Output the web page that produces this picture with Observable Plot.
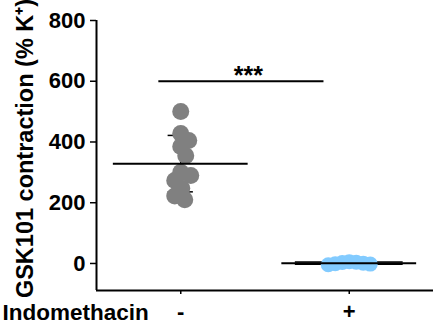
<!DOCTYPE html>
<html>
<head>
<meta charset="utf-8">
<script src="https://cdn.jsdelivr.net/npm/d3@7"></script>
<script src="https://cdn.jsdelivr.net/npm/@observablehq/plot@0.6"></script>
<style>
  body { margin: 0; background: #fff; }
</style>
</head>
<body>
<div id="chart"></div>
<script>
// Treatment groups and individual contraction responses (% of K+ response)
const groups = ["-", "+"];
const vehicle = [500, 428, 405, 385, 355, 300, 290, 273, 248, 222, 210];
const indomethacin = [-4, 3, 6, 1, -2, 4, -1];
const yTicks = [0, 200, 400, 600, 800];
const yLabel = "GSK101 contraction (% K⁺)";
const xLabel = "Indomethacin";
const significance = {from: 0.37, to: 1.35, y: 600, label: "***"};

// Layout
const width = 444, height = 326;
const margin = {top: 20, right: 11, bottom: 36, left: 96};
const yDomain = [-89, 800];
const xDomain = [0, groups.length];
const font = "'Liberation Sans', Arial, Helvetica, sans-serif";

// Per-group styling
const palette = {"-": "#808080", "+": "#82cbff"};
const dotR = {"-": 8.5, "+": 7.5};
const packGap = {"-": 10, "+": 7};      // centre spacing when spreading dots sideways (px)
const capHalf = {"-": 0.075, "+": 0.32}; // SD cap half-width (x units)
const meanHalf = 0.4;                    // mean line half-width (x units)

const pxPerX = (width - margin.left - margin.right) / (xDomain[1] - xDomain[0]);
const pxPerY = (height - margin.top - margin.bottom) / (yDomain[1] - yDomain[0]);

// Simple beeswarm: place each dot at the smallest sideways offset that keeps
// it at least packGap pixels from the dots already placed.
function swarm(values, group, gi) {
  const centre = gi + 0.5;
  const gap = packGap[group];
  const placed = [];
  const order = values.map((v, i) => i).sort((a, b) => values[b] - values[a]);
  return order.map(i => {
    const py = values[i] * pxPerY;
    let off = 0;
    for (let k = 0; k < 400; k++) {
      const o = (k % 2 ? 1 : -1) * Math.ceil(k / 2);
      if (placed.every(p => Math.hypot(p.px - o, p.py - py) >= gap)) { off = o; break; }
    }
    placed.push({px: off, py});
    return {group, value: values[i], x: centre + off / pxPerX};
  });
}

const series = [vehicle, indomethacin];
const points = groups.map((g, i) => swarm(series[i], g, i));
const stats = groups.map((g, i) => ({
  group: g,
  c: i + 0.5,
  mean: d3.mean(series[i]),
  sd: d3.deviation(series[i])
}));
const caps = stats.flatMap(s => [
  {y: s.mean - s.sd, x1: s.c - capHalf[s.group], x2: s.c + capHalf[s.group]},
  {y: s.mean + s.sd, x1: s.c - capHalf[s.group], x2: s.c + capHalf[s.group]}
]);

const chart = Plot.plot({
  width, height,
  marginTop: margin.top, marginRight: margin.right,
  marginBottom: margin.bottom, marginLeft: margin.left,
  x: {domain: xDomain},
  y: {domain: yDomain},
  style: {fontFamily: font, fontWeight: "bold", fontSize: "22px", color: "#000", background: "#fff", overflow: "visible"},
  marks: [
    // axes
    Plot.axisY(yTicks, {tickSize: 6, tickPadding: 5, fontSize: 22, fontWeight: "bold", strokeWidth: 1.5, label: null}),
    Plot.axisX(stats.map(s => s.c), {tickFormat: d => groups[Math.floor(d)], tickSize: 4, tickPadding: 9, fontSize: 22, fontWeight: "bold", strokeWidth: 1.5, label: null}),
    Plot.ruleX([xDomain[0]], {strokeWidth: 2}),
    Plot.ruleY([yDomain[0]], {strokeWidth: 2}),
    // SD error bars (behind the dots)
    Plot.ruleX(stats, {x: "c", y1: d => d.mean - d.sd, y2: d => d.mean + d.sd, strokeWidth: 1.5}),
    Plot.ruleY(caps, {y: "y", x1: "x1", x2: "x2", strokeWidth: 1.5}),
    // individual responses
    ...groups.map((g, i) => Plot.dot(points[i], {x: "x", y: "value", r: dotR[g], fill: palette[g], stroke: null})),
    // group means
    Plot.ruleY(stats, {y: "mean", x1: d => d.c - meanHalf, x2: d => d.c + meanHalf, strokeWidth: 2}),
    // significance bar
    Plot.ruleY([significance], {y: "y", x1: "from", x2: "to", strokeWidth: 1.8}),
    Plot.text([significance], {x: d => (d.from + d.to) / 2, y: "y", text: "label", dx: 7, dy: -5, fontSize: 25, fontWeight: "bold", lineAnchor: "middle"}),
    // axis titles
    Plot.text([yLabel], {text: d => d, frameAnchor: "left", rotate: -90, dx: -71, dy: -7, fontSize: 23.5, fontWeight: "bold", lineAnchor: "middle", textAnchor: "middle"}),
    Plot.text([xLabel], {text: d => d, frameAnchor: "bottom-left", dx: -94, dy: 22, fontSize: 22.5, fontWeight: "bold", lineAnchor: "middle", textAnchor: "start"})
  ]
});

document.getElementById("chart").append(chart);
</script>
</body>
</html>
